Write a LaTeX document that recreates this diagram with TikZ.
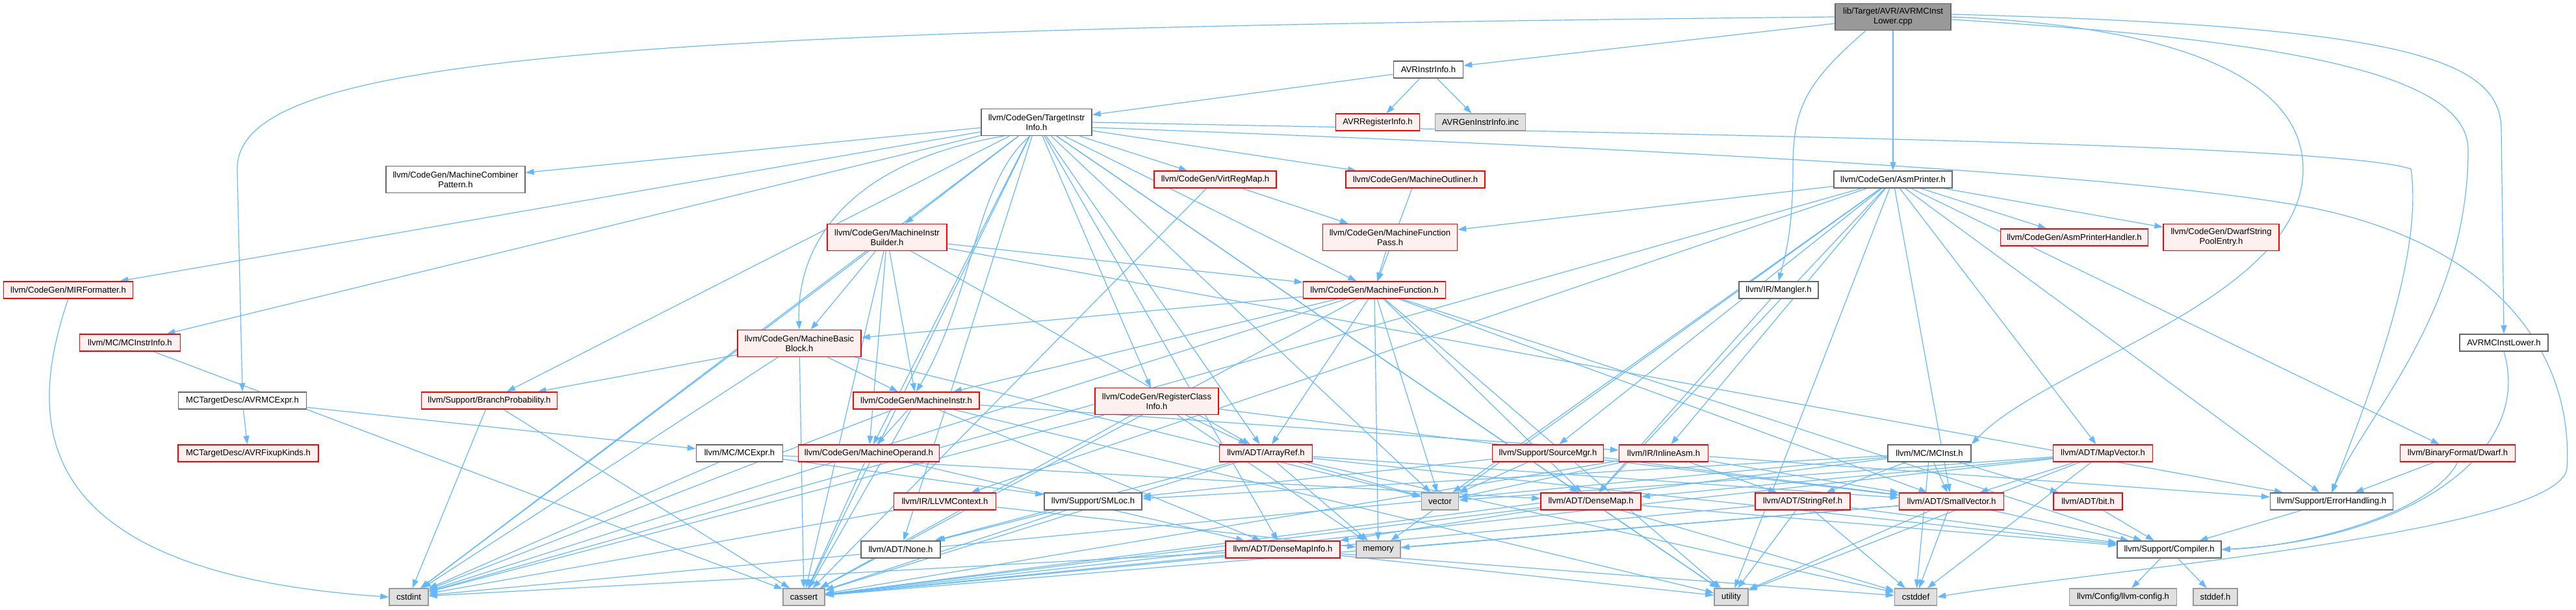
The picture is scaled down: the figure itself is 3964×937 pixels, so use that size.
\documentclass[tikz,border=0pt]{standalone}
\usepackage{fontspec}
\setmainfont{Liberation Sans}
\usetikzlibrary{arrows.meta}
\pgfdeclarelayer{bg}
\pgfsetlayers{bg,main}
\definecolor{edgeblue}{HTML}{63B8FF}
\definecolor{redfill}{HTML}{FFF0F0}
\definecolor{leafgray}{HTML}{E0E0E0}
\definecolor{leafborder}{HTML}{999999}
\definecolor{wborder}{HTML}{666666}
\definecolor{rootfill}{HTML}{999999}
\newcommand\dxfont{\fontsize{13.1}{15}\selectfont}
\tikzset{
  nbase/.style={draw, line width=1.5pt, inner sep=0pt, minimum height=26pt, align=center, font=\dxfont, text=black},
  nwhite/.style={nbase, fill=white, draw=wborder},
  nred/.style={nbase, fill=redfill, draw=red},
  ngray/.style={nbase, fill=leafgray, draw=leafborder},
  nroot/.style={nbase, fill=rootfill, draw=wborder},
  two/.style={minimum height=41pt},
  inc/.style={draw=edgeblue, line width=1.2pt, -{Triangle[length=13pt,width=9pt]}}
}
\begin{document}
\begin{tikzpicture}[x=1pt,y=-1pt]
\useasboundingbox (0,0) rectangle (3964,937);
% rows
\node[nroot,two,minimum width=178pt] (root) at (2913,26) {lib/Target/AVR/AVRMCInst\\Lower.cpp};
\node[nwhite,minimum width=107pt] (avrii) at (2198,107) {AVRInstrInfo.h};
\node[nred,minimum width=129pt] (avrri) at (2120,188) {AVRRegisterInfo.h};
\node[ngray,minimum width=139pt] (avrgen) at (2278,188) {AVRGenInstrInfo.inc};
\node[nwhite,two,minimum width=170pt] (tii) at (1595,188) {llvm/CodeGen/TargetInstr\\Info.h};
\node[nwhite,two,minimum width=214pt] (mcp) at (701,276) {llvm/CodeGen/MachineCombiner\\Pattern.h};
\node[nred,minimum width=188pt] (vrm) at (1870,276) {llvm/CodeGen/VirtRegMap.h};
\node[nred,minimum width=214pt] (mol) at (2178,276) {llvm/CodeGen/MachineOutliner.h};
\node[nwhite,minimum width=182pt] (asmp) at (2913,276) {llvm/CodeGen/AsmPrinter.h};
\node[nred,two,minimum width=184pt] (mib) at (1365,365) {llvm/CodeGen/MachineInstr\\Builder.h};
\node[nred,two,minimum width=207pt] (mfp) at (2139,365) {llvm/CodeGen/MachineFunction\\Pass.h};
\node[nred,minimum width=227pt] (asmph) at (3192,365) {llvm/CodeGen/AsmPrinterHandler.h};
\node[nred,two,minimum width=178pt] (dspe) at (3418,365) {llvm/CodeGen/DwarfString\\PoolEntry.h};
\node[nred,minimum width=199pt] (mirf) at (105,446) {llvm/CodeGen/MIRFormatter.h};
\node[nred,minimum width=219pt] (mf) at (2115,446) {llvm/CodeGen/MachineFunction.h};
\node[nwhite,minimum width=122pt] (mangler) at (2737,446) {llvm/IR/Mangler.h};
\node[nred,minimum width=155pt] (mcii) at (200,527) {llvm/MC/MCInstrInfo.h};
\node[nred,two,minimum width=190pt] (mbb) at (1230,528) {llvm/CodeGen/MachineBasic\\Block.h};
\node[nwhite,minimum width=136pt] (avrmcil) at (3853,527) {AVRMCInstLower.h};
\node[nwhite,minimum width=197pt] (avrmcexpr) at (373,616) {MCTargetDesc/AVRMCExpr.h};
\node[nred,minimum width=209pt] (bp) at (753,616) {llvm/Support/BranchProbability.h};
\node[nred,minimum width=194pt] (mi) at (1410,616) {llvm/CodeGen/MachineInstr.h};
\node[nred,two,minimum width=190pt] (rci) at (1780,617) {llvm/CodeGen/RegisterClass\\Info.h};
\node[nred,minimum width=216pt] (fixup) at (382,697) {MCTargetDesc/AVRFixupKinds.h};
\node[nwhite,minimum width=133pt] (mcexpr) at (1138,697) {llvm/MC/MCExpr.h};
\node[nred,minimum width=217pt] (mop) at (1337,697) {llvm/CodeGen/MachineOperand.h};
\node[nred,minimum width=143pt] (aref) at (1948,697) {llvm/ADT/ArrayRef.h};
\node[nred,minimum width=171pt] (srcmgr) at (2382,697) {llvm/Support/SourceMgr.h};
\node[nred,minimum width=137pt] (iasm) at (2560,697) {llvm/IR/InlineAsm.h};
\node[nwhite,minimum width=128pt] (mcinst) at (2969,697) {llvm/MC/MCInst.h};
\node[nred,minimum width=153pt] (mapvec) at (3236,697) {llvm/ADT/MapVector.h};
\node[nred,minimum width=177pt] (dwarf) at (3782,697) {llvm/BinaryFormat/Dwarf.h};
\node[nred,minimum width=157pt] (llvmctx) at (1454,771) {llvm/IR/LLVMContext.h};
\node[nwhite,minimum width=150pt] (smloc) at (1682,771) {llvm/Support/SMLoc.h};
\node[ngray,minimum width=57pt] (vector) at (2216,771) {vector};
\node[nred,minimum width=154pt] (dmap) at (2448,771) {llvm/ADT/DenseMap.h};
\node[nred,minimum width=146pt] (sref) at (2774,771) {llvm/ADT/StringRef.h};
\node[nred,minimum width=161pt] (svec) at (3003,771) {llvm/ADT/SmallVector.h};
\node[nred,minimum width=106pt] (bit) at (3213,771) {llvm/ADT/bit.h};
\node[nwhite,minimum width=189pt] (errh) at (3588,771) {llvm/Support/ErrorHandling.h};
\node[nwhite,minimum width=122pt] (none) at (1386,845) {llvm/ADT/None.h};
\node[nred,minimum width=176pt] (dmi) at (1974,845) {llvm/ADT/DenseMapInfo.h};
\node[ngray,minimum width=68pt] (memory) at (2121,845) {memory};
\node[nwhite,minimum width=160pt] (compiler) at (3338,845) {llvm/Support/Compiler.h};
\node[ngray,minimum width=60pt] (cstdint) at (629,918) {cstdint};
\node[ngray,minimum width=64pt] (cassert) at (1237,918) {cassert};
\node[ngray,minimum width=52pt] (utility) at (2664,918) {utility};
\node[ngray,minimum width=65pt] (cstddef) at (2948,918) {cstddef};
\node[ngray,minimum width=165pt] (llvmcfg) at (3267,918) {llvm/Config/llvm-config.h};
\node[ngray,minimum width=68pt] (stddef) at (3409,918) {stddef.h};

\begin{pgfonlayer}{bg}
% root
\draw[inc] (root) -- (avrii);
\draw[inc] (root) -- (asmp);
\draw[inc] (root.west) .. controls (900,45) and (365,90) .. (365,260) -- (avrmcexpr.north);
\draw[inc] ([xshift=-42pt]root.south) .. controls (2775,130) and (2759,170) .. (2759,260) .. controls (2759,360) and (2745,400) .. (mangler.north);
\draw[inc] (root.east) .. controls (3350,40) and (3544,120) .. (3544,260) .. controls (3544,460) and (3150,560) .. (mcinst.north east);
\draw[inc] ([yshift=-4pt]root.east) .. controls (3500,60) and (3798,110) .. (3798,230) .. controls (3798,480) and (3640,640) .. (errh.north);
\draw[inc] ([yshift=4pt]root.east) .. controls (3700,40) and (3849,90) .. (3849,200) -- (avrmcil.north);
% AVRInstrInfo
\foreach \t in {tii,avrri,avrgen} \draw[inc] (avrii) -- (\t);
% TargetInstrInfo
\foreach \t in {aref,dmap,dmi,none,mirf,mcp,mf,mib,mop,mol,rci,vrm,mcii,bp,cassert,cstdint,utility,vector} \draw[inc] (tii) -- (\t);
\draw[inc] ([xshift=-50pt]tii.south) .. controls (1300,250) and (1225,380) .. (mbb.north);
\draw[inc] ([xshift=-10pt]tii.south) .. controls (1500,280) and (1500,450) .. (mi.north);
\draw[inc] (tii.east) .. controls (2500,205) and (3600,220) .. (3710,260) .. controls (3730,400) and (3640,620) .. (errh.north);
\draw[inc] ([yshift=-8pt]tii.east) .. controls (2600,230) and (3300,270) .. (3560,320) .. controls (3850,380) and (3960,550) .. (3950,720) .. controls (3940,820) and (3200,880) .. (cstddef.east);
% others
\foreach \t in {mfp,cassert} \draw[inc] (vrm) -- (\t);
\draw[inc] (mol) -- (mf);
\foreach \t in {dmap,mapvec,svec,dwarf,asmph,dspe,mfp,iasm,llvmctx,errh,srcmgr,cstdint,memory,utility,vector} \draw[inc] (asmp) -- (\t);
\draw[inc] (mirf.south) .. controls (40,650) and (40,880) .. (cstdint.west);
\draw[inc] (mcii) -- (cassert);
\foreach \t in {mcexpr,fixup} \draw[inc] (avrmcexpr) -- (\t);
\foreach \t in {cassert,cstdint} \draw[inc] (bp) -- (\t);
\foreach \t in {aref,mbb,mf,mi,mop,errh,cassert,cstdint} \draw[inc] (mib) -- (\t);
\foreach \t in {mi,bp,cassert,cstdint,vector} \draw[inc] (mbb) -- (\t);
\foreach \t in {dmi,mop,iasm,cassert,cstdint,utility} \draw[inc] (mi) -- (\t);
\foreach \t in {aref,svec,cassert,cstdint,memory} \draw[inc] (rci) -- (\t);
\draw[inc] (mfp) -- (mf);
\foreach \t in {aref,dmap,svec,mbb,mi,compiler,cassert,cstdint,memory,utility,vector} \draw[inc] (mf) -- (\t);
\draw[inc] (mangler) -- (dmap);
\draw[inc] (avrmcil.south) .. controls (3900,700) and (3700,830) .. (compiler.east);
\foreach \t in {dmap,smloc,cstdint} \draw[inc] (mcexpr) -- (\t);
\foreach \t in {dmi,cassert} \draw[inc] (mop) -- (\t);
\foreach \t in {none,svec,compiler,cassert,cstddef,memory,vector} \draw[inc] (aref) -- (\t);
\foreach \t in {cstdint,memory} \draw[inc] (llvmctx) -- (\t);
\foreach \t in {none,cassert} \draw[inc] (smloc) -- (\t);
\foreach \t in {cassert,cstddef,cstdint,utility} \draw[inc] (dmi) -- (\t);
\foreach \t in {smloc,svec,vector} \draw[inc] (srcmgr) -- (\t);
\foreach \t in {sref,svec,errh,cassert,vector} \draw[inc] (iasm) -- (\t);
\foreach \t in {svec,sref,bit,smloc,cassert,cstddef,cstdint} \draw[inc] (mcinst) -- (\t);
\foreach \t in {dmi,compiler,cassert,cstddef,utility} \draw[inc] (dmap) -- (\t);
\foreach \t in {compiler,cassert,cstddef,utility} \draw[inc] (sref) -- (\t);
\foreach \t in {compiler,cassert,cstddef,memory,utility} \draw[inc] (svec) -- (\t);
\foreach \t in {dmap,svec,cassert,cstddef,utility,vector} \draw[inc] (mapvec) -- (\t);
\draw[inc] (dwarf) -- (errh);
\draw[inc] (dwarf.south) .. controls (3740,790) and (3550,840) .. (compiler.east);
\draw[inc] (bit) -- (compiler);
\draw[inc] (errh) -- (compiler);
\foreach \t in {llvmcfg,stddef} \draw[inc] (compiler) -- (\t);
\end{pgfonlayer}
\end{tikzpicture}
\end{document}
